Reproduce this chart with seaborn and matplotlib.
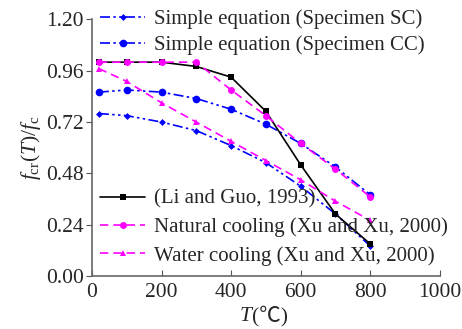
import matplotlib
matplotlib.use("Agg")
import matplotlib.pyplot as plt
import seaborn as sns
import pandas as pd

sns.set_style("ticks")
plt.rcParams['font.family'] = ['Liberation Serif', 'DejaVu Serif']
plt.rcParams['mathtext.fontset'] = 'custom'
plt.rcParams['mathtext.it'] = 'Liberation Serif:italic'
plt.rcParams['mathtext.rm'] = 'Liberation Serif'

T = [20, 100, 200, 300, 400, 500, 600, 700, 800]
sc = [0.76, 0.75, 0.72, 0.68, 0.61, 0.53, 0.42, 0.29, 0.14]
cc = [0.86, 0.87, 0.86, 0.83, 0.78, 0.71, 0.62, 0.51, 0.38]
li_guo = [1.00, 1.00, 1.00, 0.98, 0.93, 0.77, 0.52, 0.29, 0.15]
natural = [1.00, 1.00, 1.00, 1.00, 0.87, 0.75, 0.62, 0.50, 0.37]
water = [0.97, 0.91, 0.81, 0.72, 0.63, 0.54, 0.45, 0.35, 0.26]

labels = ["Simple equation (Specimen SC)", "Simple equation (Specimen CC)",
          "(Li and Guo, 1993)", "Natural cooling (Xu and Xu, 2000)",
          "Water cooling (Xu and Xu, 2000)"]
xticks = [0, 200, 400, 600, 800, 1000]
yticks = [0.0, 0.24, 0.48, 0.72, 0.96, 1.20]

fig = plt.figure(figsize=(4.62, 3.29), dpi=100)
ax = fig.add_axes([0.199, 0.161, 0.753, 0.78])

dashdot = (0, (6, 2, 1.5, 2, 1.5, 2))
styles = [
    (sc, labels[0], 'blue', dashdot, 'D', 3.5),
    (cc, labels[1], 'blue', dashdot, 'o', 5.5),
    (li_guo, labels[2], 'black', '-', 's', 4),
    (natural, labels[3], 'magenta', (0, (5, 3)), 'o', 5),
    (water, labels[4], 'magenta', (0, (5, 3)), '^', 5),
]
handles = []
for vals, lab, col, ls, mk, ms in styles:
    df = pd.DataFrame({'T': T, 'v': vals})
    sns.lineplot(data=df, x='T', y='v', ax=ax, color=col, linestyle=ls,
                 marker=mk, markersize=ms, markeredgewidth=0, linewidth=1.2,
                 label=lab, legend=False)
    handles.append(ax.lines[-1])

ax.set_xlim(0, 1000)
ax.set_ylim(0, 1.2)
ax.set_xticks(xticks)
ax.set_yticks(yticks)
ax.set_yticklabels([f"{v:.2f}" for v in yticks])
ax.tick_params(axis='x', direction='in', labelsize=15.5, length=4, color='#555555', pad=5)
ax.tick_params(axis='y', direction='out', labelsize=15.5, length=4, color='#555555', pad=2)
for s in ['left', 'bottom']:
    ax.spines[s].set_color('#666666')
    ax.spines[s].set_linewidth(1.2)
sns.despine(ax=ax)

ax.set_xlabel("")
ax.text(0.46, -0.156, "T", transform=ax.transAxes, ha='right', va='center',
        fontsize=15.5, style='italic')
ax.text(0.46, -0.156, "(℃)", transform=ax.transAxes, ha='left', va='center',
        fontsize=15.5, family=['Liberation Serif', 'Noto Sans CJK SC'])
ax.set_ylabel(r"$f_{\rm cr}(T)/f_{\rm c}$", fontsize=15.5, labelpad=2)

kw = dict(frameon=False, fontsize=15, handlelength=2.2, handletextpad=0.4,
          borderaxespad=0, borderpad=0)
leg1 = ax.legend(handles=handles[:2], labels=labels[:2], loc='upper left',
                 bbox_to_anchor=(0.022, 1.04), labelspacing=0.3, **kw)
ax.add_artist(leg1)
ax.legend(handles=handles[2:], labels=labels[2:], loc='lower left',
          bbox_to_anchor=(0.022, 0.04), labelspacing=0.42, **kw)

fig.savefig("out.png", dpi=100)
